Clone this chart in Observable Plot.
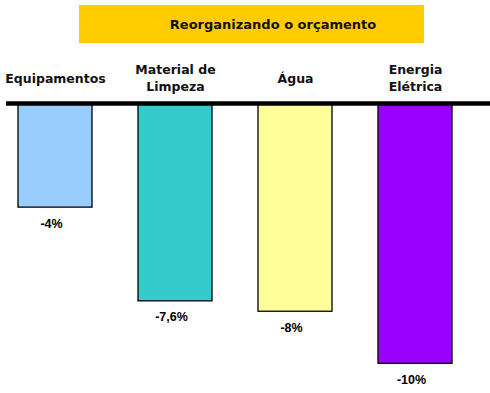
<!DOCTYPE html>
<html>
<head>
<meta charset="utf-8">
<script src="https://cdn.jsdelivr.net/npm/d3@7"></script>
<script src="https://cdn.jsdelivr.net/npm/@observablehq/plot@0.6"></script>
<style>
  body { margin: 0; background: #fff; width: 490px; height: 393px; overflow: hidden; }
  #title {
    margin: 5px 0 0 79px; width: 302px; height: 38px; padding-left: 43px;
    background: #FFCC00; font: bold 13px "DejaVu Sans", sans-serif; color: #111;
    text-align: center; line-height: 40px;
  }
  #chart { margin-top: 2px; }
</style>
</head>
<body>
<div id="title">Reorganizando o orçamento</div>
<div id="chart"></div>
<script>
const categories = ["Equipamentos", "Material de\nLimpeza", "Água", "Energia\nElétrica"];
const values = [-4, -7.6, -8, -10];
const valueLabels = ["-4%", "-7,6%", "-8%", "-10%"];
const colors = ["#99CCFF", "#33CCCC", "#FFFF99", "#9900FF"];

const data = categories.map((c, i) => ({cat: c, value: values[i], label: valueLabels[i]}));

const chart = Plot.plot({
  width: 490,
  height: 348,
  marginLeft: 16.5,
  marginRight: 35.7,
  marginTop: 58,
  marginBottom: 29.7,
  x: {domain: categories, axis: null, paddingInner: 0.38, paddingOuter: 0},
  y: {domain: [-10, 0], axis: null},
  color: {domain: categories, range: colors},
  marks: [
    Plot.barY(data, {x: "cat", y: "value", fill: "cat", stroke: "black", strokeWidth: 1.3}),
    Plot.ruleY([0], {stroke: "black", strokeWidth: 4.5, insetLeft: -10.5, insetRight: -35.7}),
    Plot.text(data, {x: "cat", y: () => 0, text: "cat", dy: -26, lineAnchor: "middle", lineHeight: 1.36,
      fontFamily: "DejaVu Sans", fontWeight: "bold", fontSize: 12.5, fill: "#111"}),
    Plot.text(data, {x: "cat", y: "value", text: "label", dy: 16, dx: -4, lineAnchor: "middle",
      fontFamily: "Liberation Sans", fontWeight: "bold", fontSize: 12.5, fill: "#000", style: {letterSpacing: "1.4px"}})
  ]
});
document.getElementById("chart").appendChild(chart);
</script>
</body>
</html>
